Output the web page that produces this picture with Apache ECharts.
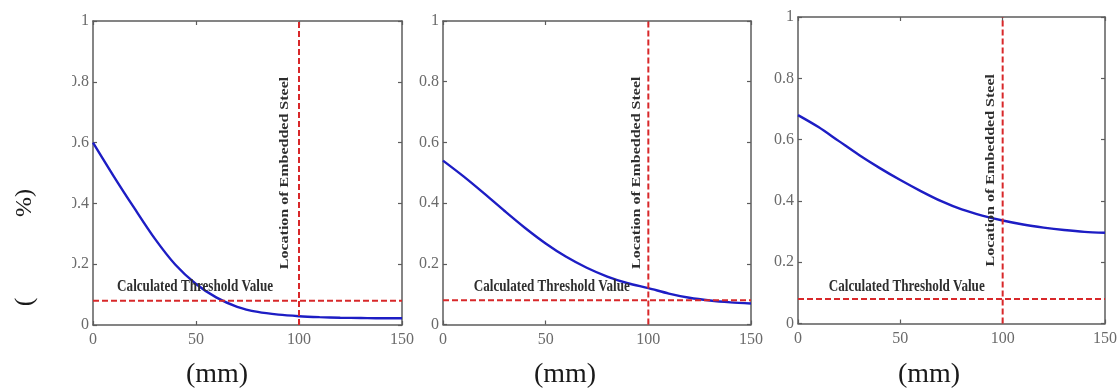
<!DOCTYPE html>
<html><head><meta charset="utf-8">
<script src="https://cdn.jsdelivr.net/npm/echarts@6/dist/echarts.min.js"></script>
<style>html,body{margin:0;padding:0;background:#fff}#c{width:1120px;height:388px}</style>
</head><body><div id="c"></div>
<script>
// ---- data ----
const depth = [0, 10, 20, 30, 40, 50, 60, 70, 80, 90, 100, 110, 120, 130, 140, 150];
const chloride1 = [0.60, 0.49, 0.385, 0.284, 0.198, 0.135, 0.09, 0.06, 0.043, 0.034, 0.029, 0.026, 0.024, 0.023, 0.022, 0.022];
const chloride2 = [0.54, 0.488, 0.432, 0.374, 0.318, 0.267, 0.223, 0.187, 0.158, 0.136, 0.12, 0.102, 0.088, 0.079, 0.073, 0.069];
const chloride3 = [0.68, 0.641, 0.595, 0.549, 0.507, 0.468, 0.432, 0.399, 0.372, 0.352, 0.336, 0.323, 0.313, 0.305, 0.299, 0.296];
const thresholdValue = 0.08;
const steelLocation = 100;
const xTickLabels = ['0', '50', '100', '150'];
const yTickLabels = ['0', '0.2', '0.4', '0.6', '0.8', '1'];
const thresholdText = 'Calculated Threshold Value';
const steelText = 'Location of Embedded Steel';
const xAxisTitle = '(mm)';
const yAxisTitleA = '(';
const yAxisTitleB = '%)';

// ---- layout ----
const panels = [
  { grid: { left: 93, top: 21, width: 309, height: 304 }, thrLabelX: 11.7, thrDy: -14, steelDx: -14, mm: [217, 375] },
  { grid: { left: 443, top: 21, width: 308, height: 303.5 }, thrLabelX: 15, thrDy: -13, steelDx: -12, mm: [565, 375] },
  { grid: { left: 798, top: 17, width: 309, height: 306.5 }, thrLabelX: 15, thrDy: -12.5, steelDx: -12, mm: [929, 375] }
];
const curves = [chloride1, chloride2, chloride3];
const SERIF = '"Liberation Serif","DejaVu Serif",serif';
const BLUE = '#1d1dc4';
const RED = '#d8282a';
const AX = '#5c5c5c';

const chart = echarts.init(document.getElementById('c'), null, { renderer: 'canvas' });

const grids = [], xAxes = [], yAxes = [], series = [];
panels.forEach((p, i) => {
  grids.push(Object.assign({ containLabel: false }, p.grid));
  const common = {
    gridIndex: i,
    type: 'value',
    axisLine: { show: true, onZero: false, lineStyle: { color: AX, width: 1.5 } },
    axisTick: { show: true, inside: true, length: 4, lineStyle: { color: AX, width: 1.2 } },
    splitLine: { show: false }
  };
  xAxes.push(Object.assign({}, common, {
    position: 'bottom', min: 0, max: 150, interval: 50,
    axisLabel: { margin: 7, color: '#6a6a6a', fontFamily: SERIF, fontSize: 16,
      formatter: v => xTickLabels[Math.round(v / 50)] }
  }));
  xAxes.push(Object.assign({}, common, {
    position: 'top', min: 0, max: 150, interval: 50, axisLabel: { show: false }
  }));
  yAxes.push(Object.assign({}, common, {
    position: 'left', min: 0, max: 1, interval: 0.2,
    axisLabel: { margin: 4, color: '#6a6a6a', fontFamily: SERIF, fontSize: 16,
      formatter: v => yTickLabels[Math.round(v / 0.2)] }
  }));
  yAxes.push(Object.assign({}, common, {
    position: 'right', min: 0, max: 1, interval: 0.2, axisLabel: { show: false }
  }));
  series.push({
    type: 'line', xAxisIndex: 2 * i, yAxisIndex: 2 * i,
    data: depth.map((d, j) => [d, curves[i][j]]),
    smooth: 0.3, showSymbol: false, silent: true,
    lineStyle: { color: BLUE, width: 2.4 }, z: 2
  });
  series.push({
    type: 'line', xAxisIndex: 2 * i, yAxisIndex: 2 * i,
    data: [[0, thresholdValue], [150, thresholdValue]],
    showSymbol: false, silent: true,
    lineStyle: { color: RED, width: 2, type: [6, 3] }, z: 3
  });
  series.push({
    type: 'line', xAxisIndex: 2 * i, yAxisIndex: 2 * i,
    data: [[steelLocation, 0], [steelLocation, 1]],
    showSymbol: false, silent: true,
    lineStyle: { color: RED, width: 2, type: [6, 3] }, z: 3
  });
});

chart.setOption({
  animation: false,
  backgroundColor: '#ffffff',
  grid: grids, xAxis: xAxes, yAxis: yAxes, series: series
});

const graphic = [];
// the left edge of the first panel's y labels is cropped in the reference
graphic.push({ type: 'rect', shape: { x: 0, y: 60, width: 72, height: 222 }, style: { fill: '#ffffff' }, z: 50 });
panels.forEach((p, i) => {
  const idx = { xAxisIndex: 2 * i, yAxisIndex: 2 * i };
  const tp = chart.convertToPixel(idx, [p.thrLabelX, thresholdValue]);
  graphic.push({
    type: 'text', x: tp[0], y: tp[1] + p.thrDy, scaleX: 0.82, z: 60,
    style: { text: thresholdText, fill: '#2e2e2e', font: 'bold 16px ' + SERIF, align: 'left', verticalAlign: 'middle' }
  });
  const sp = chart.convertToPixel(idx, [steelLocation, 0.5]);
  graphic.push({
    type: 'text', x: sp[0] + p.steelDx, y: sp[1], rotation: Math.PI / 2, scaleY: 0.82, z: 60,
    style: { text: steelText, fill: '#2e2e2e', font: 'bold 16px ' + SERIF, align: 'center', verticalAlign: 'middle' }
  });
  graphic.push({
    type: 'text', x: p.mm[0], y: p.mm[1], z: 60,
    style: { text: xAxisTitle, fill: '#1a1a1a', font: '28px ' + SERIF, align: 'center', verticalAlign: 'middle' }
  });
});
graphic.push({
  type: 'text', x: 25, y: 302, rotation: Math.PI / 2, z: 60,
  style: { text: yAxisTitleA, fill: '#1a1a1a', font: '26px ' + SERIF, align: 'center', verticalAlign: 'middle' }
});
graphic.push({
  type: 'text', x: 25, y: 203, rotation: Math.PI / 2, z: 60,
  style: { text: yAxisTitleB, fill: '#1a1a1a', font: '24px ' + SERIF, align: 'center', verticalAlign: 'middle' }
});
chart.setOption({ graphic: graphic });
</script>
</body></html>
